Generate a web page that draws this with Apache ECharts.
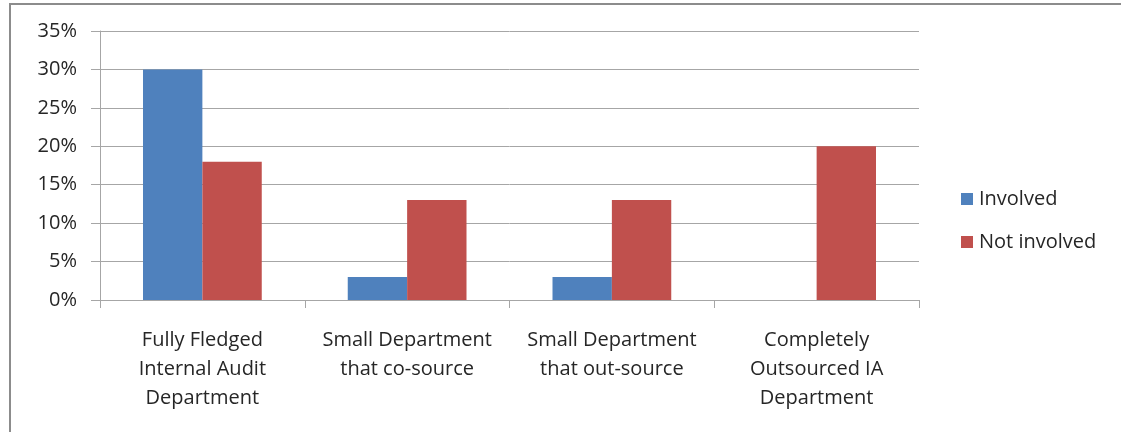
<!DOCTYPE html>
<html>
<head>
<meta charset="utf-8">
<script src="https://cdn.jsdelivr.net/npm/echarts@6/dist/echarts.min.js"></script>
<style>
  html, body { margin: 0; padding: 0; background: #fff; }
  #chart { width: 1121px; height: 432px; }
</style>
</head>
<body>
<div id="chart"></div>
<script>
// Survey: audit department structure vs. involvement
const categories = [
  'Fully Fledged\nInternal Audit\nDepartment',
  'Small Department\nthat co-source',
  'Small Department\nthat out-source',
  'Completely\nOutsourced IA\nDepartment'
];
const involved = [30, 3, 3, 0];
const notInvolved = [18, 13, 13, 20];
const seriesNames = ['Involved', 'Not involved'];
const yTicks = [0, 5, 10, 15, 20, 25, 30, 35];

const FONT = 'Open Sans';
const FS = 20;
const TEXT = '#262626';
const GRID = '#a6a6a6';

const chart = echarts.init(document.getElementById('chart'), null, { renderer: 'canvas' });
chart.setOption({
  animation: false,
  backgroundColor: '#ffffff',
  textStyle: { fontFamily: FONT },
  graphic: [{
    type: 'rect',
    shape: { x: 10, y: 4, width: 1130, height: 440 },
    style: { fill: 'none', stroke: '#8c8c8c', lineWidth: 2 },
    silent: true,
    z: -1
  }],
  grid: { left: 100, right: 202, top: 31, bottom: 132, containLabel: false },
  legend: {
    orient: 'vertical',
    left: 956,
    top: 184,
    itemWidth: 12,
    itemHeight: 12,
    itemGap: 23,
    icon: 'rect',
    textStyle: { fontFamily: FONT, fontSize: FS, color: TEXT, padding: [0, 0, 0, 1] },
    data: seriesNames
  },
  xAxis: {
    type: 'category',
    data: categories,
    axisLine: { lineStyle: { color: GRID, width: 1 } },
    axisTick: { show: true, length: 8, lineStyle: { color: GRID } },
    axisLabel: {
      interval: 0,
      margin: 26,
      fontFamily: FONT,
      fontSize: FS,
      lineHeight: 29,
      color: TEXT,
      align: 'center'
    }
  },
  yAxis: {
    type: 'value',
    min: yTicks[0],
    max: yTicks[yTicks.length - 1],
    interval: 5,
    axisLine: { show: true, lineStyle: { color: GRID, width: 1 } },
    axisTick: { show: true, length: 9, lineStyle: { color: GRID } },
    splitLine: { show: true, lineStyle: { color: GRID, width: 1 } },
    axisLabel: {
      margin: 23,
      fontFamily: FONT,
      fontSize: FS,
      color: TEXT,
      formatter: v => v + '%'
    }
  },
  series: [
    {
      name: seriesNames[0],
      type: 'bar',
      data: involved,
      itemStyle: { color: '#4f81bd' },
      barGap: '0%',
      barCategoryGap: '42%'
    },
    {
      name: seriesNames[1],
      type: 'bar',
      data: notInvolved,
      itemStyle: { color: '#c0504d' },
      barGap: '0%',
      barCategoryGap: '42%'
    }
  ]
});
</script>
</body>
</html>
